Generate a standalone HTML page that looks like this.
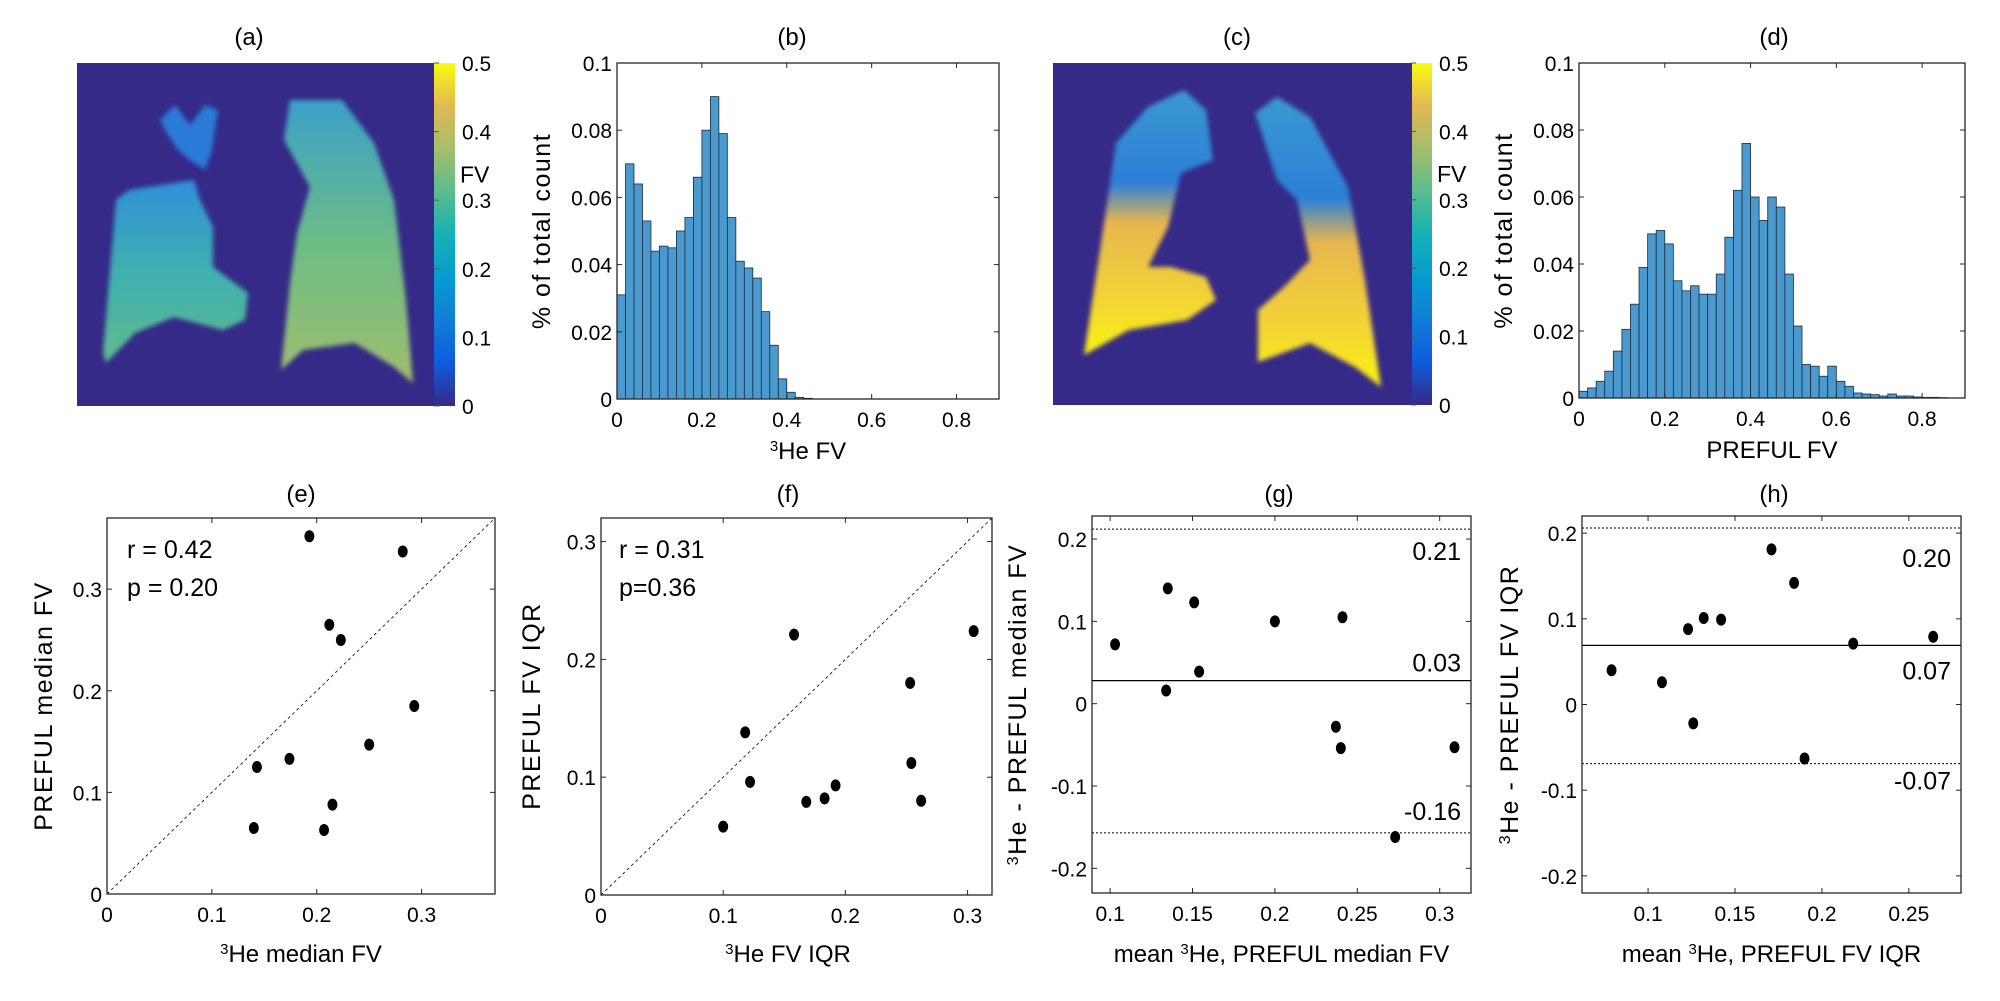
<!DOCTYPE html>
<html><head><meta charset="utf-8"><style>
body{margin:0;background:#fff}
svg{display:block;font-family:"Liberation Sans",sans-serif}
</style></head><body>
<svg id="fig" width="2000" height="1001" viewBox="0 0 2000 1001" xmlns="http://www.w3.org/2000/svg">
<defs>
<linearGradient id="parula" x1="0" y1="1" x2="0" y2="0">
<stop offset="0" stop-color="#352a87"/><stop offset="0.125" stop-color="#0f5cdd"/><stop offset="0.25" stop-color="#127dd8"/><stop offset="0.375" stop-color="#079ccf"/><stop offset="0.5" stop-color="#15b1b4"/><stop offset="0.625" stop-color="#59bd8c"/><stop offset="0.75" stop-color="#a5be6b"/><stop offset="0.875" stop-color="#e1b952"/><stop offset="1" stop-color="#f9fb0e"/>
</linearGradient>
<linearGradient id="lungA" x1="0" y1="0" x2="0" y2="1"><stop offset="0" stop-color="#2f8fd8"/><stop offset="0.5" stop-color="#3fb0b0"/><stop offset="1" stop-color="#5dbb8c"/></linearGradient>
<linearGradient id="lungA2" x1="0" y1="0" x2="0" y2="1"><stop offset="0" stop-color="#3aa0c8"/><stop offset="0.5" stop-color="#6cbc86"/><stop offset="1" stop-color="#9fbe6e"/></linearGradient>
<linearGradient id="lungC" x1="0" y1="0" x2="0" y2="1"><stop offset="0" stop-color="#3a98d0"/><stop offset="0.35" stop-color="#2c7fd8"/><stop offset="0.5" stop-color="#e6b64f"/><stop offset="0.8" stop-color="#f3d534"/><stop offset="1" stop-color="#f9f20f"/></linearGradient>
<filter id="blur"><feGaussianBlur stdDeviation="2.5"/></filter>
</defs>
<rect x="77" y="63" width="357" height="343" fill="#352a87"/>
<g filter="url(#blur)">
<polygon fill="url(#lungA)" points="129,190 194,180 200,200 213,227 213,267 248,293 245,320 223,330 174,317 135,333 106,363 103,353 116,200"/>
<polygon fill="#2a7ad8" points="160,120 175,105 190,125 205,105 218,110 212,150 205,170 190,160 178,150 168,135"/>
<polygon fill="url(#lungA2)" points="290,100 342,100 374,143 394,200 406,300 413,383 394,367 355,343 303,350 281,370 290,283 297,233 310,187 284,140"/>
</g>
<rect x="434" y="63" width="21" height="343" fill="url(#parula)"/>
<rect x="1053" y="63" width="359" height="342" fill="#352a87"/>
<g filter="url(#blur)">
<polygon fill="url(#lungC)" points="1184,90 1206,110 1213,160 1181,173 1168,227 1148,267 1171,267 1206,277 1216,300 1187,320 1129,330 1084,355 1100,250 1116,143 1148,107"/>
<polygon fill="url(#lungC)" points="1277,97 1310,117 1348,187 1365,280 1381,387 1355,367 1310,343 1258,362 1258,310 1284,287 1310,260 1297,200 1277,180 1255,113"/>
</g>
<rect x="1412" y="63" width="20" height="342" fill="url(#parula)"/>
</svg>
<script>
const NS="http://www.w3.org/2000/svg";
const svg=document.getElementById('fig');
function mk(tag,attrs,parent){const e=document.createElementNS(NS,tag);for(const k in attrs)e.setAttribute(k,attrs[k]);(parent||svg).appendChild(e);return e;}
function txt(s,x,y,size,anchor,parent,extra){const t=mk('text',Object.assign({x:x,y:y,'font-size':size,'text-anchor':anchor||'middle',fill:'#000'},extra||{}),parent);t.textContent=s;return t;}

const colorbarTicks=[0,0.1,0.2,0.3,0.4,0.5];
const histB=[0.031,0.070,0.064,0.053,0.044,0.0455,0.045,0.050,0.054,0.066,0.080,0.090,0.079,0.054,0.041,0.039,0.036,0.026,0.016,0.006,0.002,0.0005,0.0002];
const histD=[0.002,0.003,0.005,0.008,0.014,0.0205,0.028,0.039,0.049,0.050,0.046,0.035,0.032,0.0335,0.031,0.031,0.037,0.048,0.062,0.076,0.060,0.053,0.060,0.057,0.037,0.0215,0.010,0.0095,0.0065,0.0095,0.005,0.0035,0.0015,0.0012,0.001,0.0006,0.0012,0.0006,0.0006,0.0003,0.0002,0.0002,0.0001];
const histBinWidth=0.02;
const histXTicks=[0,0.2,0.4,0.6,0.8];
const histYTicks=[0,0.02,0.04,0.06,0.08,0.1];
const eX=[0.193,0.282,0.212,0.223,0.293,0.250,0.174,0.143,0.215,0.140,0.207];
const eY=[0.352,0.337,0.265,0.250,0.185,0.147,0.133,0.125,0.088,0.065,0.063];
const fX=[0.100,0.118,0.122,0.158,0.168,0.183,0.192,0.253,0.254,0.262,0.305];
const fY=[0.058,0.138,0.096,0.221,0.079,0.082,0.093,0.180,0.112,0.080,0.224];
const gX=[0.103,0.135,0.134,0.151,0.154,0.200,0.241,0.237,0.240,0.273,0.309];
const gY=[0.072,0.140,0.016,0.123,0.039,0.100,0.105,-0.028,-0.054,-0.162,-0.053];
const gLines=[0.212,0.028,-0.157];
const gLineLabels=['0.21','0.03','-0.16'];
const hX=[0.079,0.108,0.123,0.126,0.132,0.142,0.171,0.184,0.190,0.218,0.264];
const hY=[0.040,0.026,0.088,-0.022,0.101,0.099,0.181,0.142,-0.063,0.071,0.079];
const hLines=[0.206,0.069,-0.069];
const hLineLabels=['0.20','0.07','-0.07'];

function axes(name,L,T,R,B,xmin,xmax,ymin,ymax){
  const g=mk('g',{});
  
  
  return {g:g,L:L,T:T,R:R,B:B,sx:v=>L+(v-xmin)/(xmax-xmin)*(R-L),sy:v=>B-(v-ymin)/(ymax-ymin)*(B-T)};
}
function frame(a){const r=mk('rect',{x:a.L,y:a.T,width:a.R-a.L,height:a.B-a.T,fill:'none',stroke:'#262626','stroke-width':1.3},a.g);}
function xticks(a,ticks,labels){ticks.forEach((v,i)=>{const x=a.sx(v);mk('line',{x1:x,x2:x,y1:a.B,y2:a.B-5,stroke:'#262626'},a.g);mk('line',{x1:x,x2:x,y1:a.T,y2:a.T+5,stroke:'#262626'},a.g);const t=txt(labels[i],x,a.B+28,21,'middle',a.g);});}
function yticks(a,ticks,labels){ticks.forEach((v,i)=>{const y=a.sy(v);mk('line',{x1:a.L,x2:a.L+5,y1:y,y2:y,stroke:'#262626'},a.g);mk('line',{x1:a.R,x2:a.R-5,y1:y,y2:y,stroke:'#262626'},a.g);const t=txt(labels[i],a.L-5,y+8,21,'end',a.g);});}
function ylabel(a,x,s,cy){const t=txt('',x,cy,25,'middle',a.g,{transform:'rotate(-90 '+x+' '+cy+')','letter-spacing':'1.5'});t.innerHTML=s;}
function xlabel(a,x,y,s){const t=txt('',x,y,24,'middle',a.g);t.innerHTML=s;}
function title(s,x,y){const t=txt(s,x,y,24,'middle');}
function dots(a,xs,ys){xs.forEach((v,i)=>{const c=mk('ellipse',{cx:a.sx(v),cy:a.sy(ys[i]),rx:5,ry:6,fill:'#000'},a.g);});}
function fmt(v){return String(v);}

title('(a)',249,45);title('(b)',792,45);title('(c)',1237,45);title('(d)',1774,45);
title('(e)',301,502);title('(f)',788,502);title('(g)',1279,502);title('(h)',1774,502);

[[455,63,406],[1432,63,405]].forEach(([x,t,b])=>{
  const g=mk('g',{});
  
  
  colorbarTicks.forEach(v=>{const y=b-(v/0.5)*(b-t);mk('line',{x1:x-21,x2:x-16,y1:y,y2:y,stroke:'#555'},g);const l=txt(fmt(v),x+7,y+8,21,'start',g);});
  const fv=txt('FV',x+5,(t+b)/2-60+8,23,'start',g);
  
  
});

function hist(name,L,R,T,B,data,xl){
  const a=axes(name,L,T,R,B,0,0.9,0,0.1);
  data.forEach((v,i)=>{const x0=a.sx(i*histBinWidth),x1=a.sx((i+1)*histBinWidth);const r=mk('rect',{x:x0,y:a.sy(v),width:x1-x0,height:a.B-a.sy(v),fill:'#4a9ad0',stroke:'#1d2b3a','stroke-width':0.8},a.g);});
  frame(a);
  xticks(a,histXTicks,histXTicks.map(fmt));
  yticks(a,histYTicks,histYTicks.map(fmt));
  ylabel(a,L-67,'% of total count',(T+B)/2);
  xlabel(a,(L+R)/2,B+60,xl);
}
hist('histogram-b',617,999,63,399,histB,'<tspan baseline-shift="super" font-size="15">3</tspan>He FV');
hist('histogram-d',1579,1965,63,398,histD,'PREFUL FV');

(function(){
  const a=axes('scatter-e',107,518,495,894,0,0.37,0,0.37);
  mk('line',{x1:a.sx(0),y1:a.sy(0),x2:a.sx(0.37),y2:a.sy(0.37),stroke:'#000','stroke-dasharray':'3,3','stroke-width':0.8},a.g);
  dots(a,eX,eY);frame(a);
  xticks(a,[0,0.1,0.2,0.3],['0','0.1','0.2','0.3']);
  yticks(a,[0,0.1,0.2,0.3],['0','0.1','0.2','0.3']);
  ylabel(a,52,'PREFUL median FV',706);
  xlabel(a,301,962,'<tspan baseline-shift="super" font-size="15">3</tspan>He median FV');
  const r=txt('r = 0.42',127,558,25,'start',a.g);
  const p=txt('p = 0.20',127,596,25,'start',a.g);
})();
(function(){
  const a=axes('scatter-f',601,518,992,895,0,0.32,0,0.32);
  mk('line',{x1:a.sx(0),y1:a.sy(0),x2:a.sx(0.32),y2:a.sy(0.32),stroke:'#000','stroke-dasharray':'3,3','stroke-width':0.8},a.g);
  dots(a,fX,fY);frame(a);
  xticks(a,[0,0.1,0.2,0.3],['0','0.1','0.2','0.3']);
  yticks(a,[0,0.1,0.2,0.3],['0','0.1','0.2','0.3']);
  ylabel(a,540,'PREFUL FV IQR',706);
  xlabel(a,788,962,'<tspan baseline-shift="super" font-size="15">3</tspan>He FV IQR');
  const r=txt('r = 0.31',619,558,25,'start',a.g);
  const p=txt('p=0.36',619,596,25,'start',a.g);
})();
function ba(name,L,T,R,B,xmin,xmax,ymin,ymax,xs,ys,lines,labels,offs,xt,ylx,xl){
  const a=axes(name,L,T,R,B,xmin,xmax,ymin,ymax);
  lines.forEach((v,i)=>{const y=a.sy(v);const l=mk('line',{x1:L,x2:R,y1:y,y2:y,stroke:'#000','stroke-width':i==1?1.3:1,'stroke-dasharray':i==1?'none':'2,2'},a.g);
    const t=txt(labels[i],R-10,y+offs[i],25,'end',a.g);});
  dots(a,xs,ys);frame(a);
  xticks(a,xt,xt.map(fmt));
  const yt=[-0.2,-0.1,0,0.1,0.2];
  yticks(a,yt,yt.map(fmt));
  ylabel(a,ylx,'<tspan baseline-shift="super" font-size="16">3</tspan>He - PREFUL '+(name==='bland-altman-g'?'median FV':'FV IQR'),(T+B)/2);
  xlabel(a,(L+R)/2,962,xl);
}
ba('bland-altman-g',1092,516,1471,893,0.089,0.319,-0.23,0.228,gX,gY,gLines,gLineLabels,[31,-9,-13],[0.1,0.15,0.2,0.25,0.3],1026,'mean <tspan baseline-shift="super" font-size="15">3</tspan>He, PREFUL median FV');
ba('bland-altman-h',1582,516,1961,893,0.062,0.280,-0.22,0.22,hX,hY,hLines,hLineLabels,[39,34,26],[0.1,0.15,0.2,0.25],1518,'mean <tspan baseline-shift="super" font-size="15">3</tspan>He, PREFUL FV IQR');
</script>
</body></html>
